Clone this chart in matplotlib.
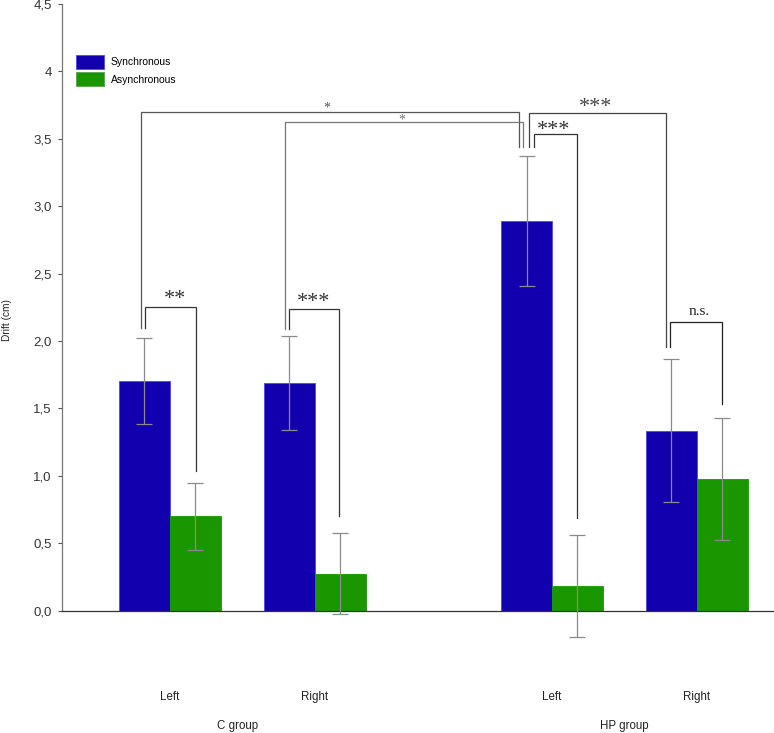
import matplotlib
matplotlib.use('Agg')
import matplotlib.pyplot as plt
from matplotlib.transforms import blended_transform_factory
from matplotlib.patches import Patch

plt.rcParams['font.family'] = ['Liberation Sans', 'DejaVu Sans']

# ---------------- data ----------------
sides = ['Left', 'Right', 'Left', 'Right']
groups = ['C group', 'HP group']
series_names = ['Synchronous', 'Asynchronous']
sync_mean = [1.705, 1.69, 2.89, 1.335]
sync_err = [0.32, 0.35, 0.48, 0.53]
async_mean = [0.70, 0.275, 0.183, 0.977]
async_err = [0.25, 0.30, 0.38, 0.455]
ytick_vals = [0.0, 0.5, 1.0, 1.5, 2.0, 2.5, 3.0, 3.5, 4.0, 4.5]
ytick_labels = ['0,0', '0,5', '1,0', '1,5', '2,0', '2,5', '3,0', '3,5', '4', '4,5']

# significance brackets: bar a, bar b (index 0..7: pair*2 + series), label
# (a, dx_a, b, dx_b, top, leg_a_bottom, leg_b_bottom, label, size, color, text_dy_pt, text_dx)
brackets = [
    (0, -0.025, 4, -0.054, 3.697, 2.095, 3.442, '*', 10, '#555555', 0.2, -0.02),
    (2, -0.027, 4, -0.022, 3.623, 2.088, 3.442, '*', 10, '#777777', -1.2, -0.02),
    (4, 0.015, 6, -0.036, 3.694, 3.442, 1.954, '***', 16, '#444444', 0.3, -0.01),
    (4, 0.049, 5, -0.005, 3.536, 3.442, 0.685, '***', 16, '#333333', -1.0, -0.01),
    (0, 0.001, 1, 0.006, 2.251, 2.095, 1.036, '**', 16, '#333333', 2.3, 0.035),
    (2, -0.004, 3, -0.006, 2.238, 2.088, 0.703, '***', 16, '#333333', 1.7, 0.0),
    (6, -0.007, 7, 0.001, 2.142, 1.954, 1.531, 'n.s.', 11, '#222222', 5.0, 0.02),
]

# ---------------- layout ----------------
pair_x = [0.0, 1.0, 2.64, 3.64]
bar_w = 0.352
blue = '#1200AE'
green = '#1A9600'
err_col = '#8a8a8a'

fig = plt.figure(figsize=(7.74, 7.33), dpi=100)
ax = fig.add_axes([61.7 / 774, 1 - 610.7 / 733, 1 - 61.7 / 774, (610.7 - 4) / 733])

sync_x = [x - bar_w / 2 for x in pair_x]
async_x = [x + bar_w / 2 for x in pair_x]

ax.bar(sync_x, sync_mean, width=bar_w, color=blue, edgecolor='#4a4ae0', linewidth=0.6, zorder=2)
ax.bar(async_x, async_mean, width=bar_w, color=green, edgecolor=green, linewidth=0.6, zorder=2)
for xs, ms, es in [(sync_x, sync_mean, sync_err), (async_x, async_mean, async_err)]:
    eb = ax.errorbar(xs, ms, yerr=es, fmt='none', ecolor=err_col, elinewidth=0.9,
                     capsize=6, capthick=0.9, zorder=3)
    for art in list(eb.lines[1]) + list(eb.lines[2]):
        art.set_clip_on(False)

ax.set_xlim(-0.748, 4.174)
ax.set_ylim(0, 4.5)

centers = []
for i in range(4):
    centers.append(sync_x[i])
    centers.append(async_x[i])

for (a, dxa, b, dxb, top, ba, bb, lab, fs, col, tdy, tdx) in brackets:
    xa = centers[a] + dxa
    xb = centers[b] + dxb
    ax.plot([xa, xa, xb, xb], [ba, top, top, bb], color=col, lw=0.9, zorder=4,
            solid_joinstyle='miter', clip_on=False)
    ax.annotate(lab, xy=((xa + xb) / 2 + tdx, top), xytext=(0, tdy), textcoords='offset points',
                ha='center', va='baseline', fontsize=fs, color=col,
                family=['Liberation Serif', 'DejaVu Serif'])

# axes styling
for s in ['top', 'right']:
    ax.spines[s].set_visible(False)
ax.spines['left'].set_color('#777777')
ax.spines['bottom'].set_color('#333333')
ax.spines['left'].set_linewidth(0.9)
ax.spines['bottom'].set_linewidth(0.9)
ax.set_yticks(ytick_vals)
ax.set_yticklabels(ytick_labels)
ax.tick_params(axis='y', length=3.2, width=0.8, color='#555555', pad=4,
               labelsize=9.5, labelcolor='#333333')
ax.set_xticks([])

trans = blended_transform_factory(ax.transData, fig.transFigure)
for x, s in zip(pair_x, sides):
    ax.text(x, 1 - 697 / 733, s, transform=trans, ha='center', va='center',
            fontsize=8.3, color='#222222')
group_x = [(pair_x[0] + pair_x[1]) / 2 - 0.03, (pair_x[2] + pair_x[3]) / 2]
for x, g in zip(group_x, groups):
    ax.text(x, 1 - 726 / 733, g, transform=trans, ha='center', va='center',
            fontsize=8.3, color='#222222')

fig.text(7.5 / 774, 1 - 320 / 733, 'Drift (cm)', rotation=90, ha='center', va='center',
         fontsize=7.3, color='#222222')

handles = [Patch(facecolor=blue, edgecolor='#4a4ae0', linewidth=0.6),
           Patch(facecolor=green, edgecolor='#5aa050', linewidth=0.6)]
fig.legend(handles, series_names, loc='upper left', bbox_to_anchor=(76 / 774, 1 - 55 / 733),
           frameon=False, fontsize=7.5, handlelength=2.69, handleheight=1.63,
           labelspacing=0.36, handletextpad=0.64, borderpad=0, borderaxespad=0)

fig.savefig('out.png', dpi=100)
